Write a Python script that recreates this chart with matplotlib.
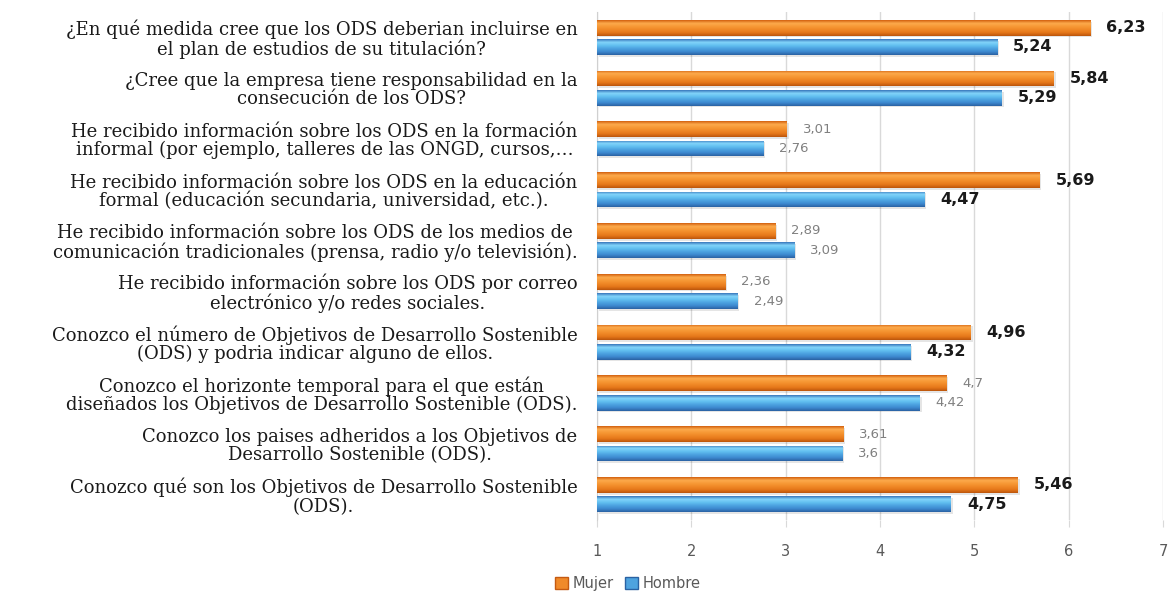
import numpy as np
import matplotlib
matplotlib.use('Agg')
import matplotlib.pyplot as plt
from matplotlib.colors import LinearSegmentedColormap
from matplotlib.patches import Patch

# datos
preguntas = [
    '¿En qué medida cree que los ODS deberian incluirse en\nel plan de estudios de su titulación?',
    '¿Cree que la empresa tiene responsabilidad en la\nconsecución de los ODS?',
    'He recibido información sobre los ODS en la formación\ninformal (por ejemplo, talleres de las ONGD, cursos,…',
    'He recibido información sobre los ODS en la educación\nformal (educación secundaria, universidad, etc.).',
    'He recibido información sobre los ODS de los medios de\ncomunicación tradicionales (prensa, radio y/o televisión).',
    'He recibido información sobre los ODS por correo\nelectrónico y/o redes sociales.',
    'Conozco el número de Objetivos de Desarrollo Sostenible\n(ODS) y podria indicar alguno de ellos.',
    'Conozco el horizonte temporal para el que están\ndiseñados los Objetivos de Desarrollo Sostenible (ODS).',
    'Conozco los paises adheridos a los Objetivos de\nDesarrollo Sostenible (ODS).',
    'Conozco qué son los Objetivos de Desarrollo Sostenible\n(ODS).',
]
mujer = [6.23, 5.84, 3.01, 5.69, 2.89, 2.36, 4.96, 4.70, 3.61, 5.46]
hombre = [5.24, 5.29, 2.76, 4.47, 3.09, 2.49, 4.32, 4.42, 3.60, 4.75]
etq_mujer = ['6,23', '5,84', '3,01', '5,69', '2,89', '2,36', '4,96', '4,7', '3,61', '5,46']
etq_hombre = ['5,24', '5,29', '2,76', '4,47', '3,09', '2,49', '4,32', '4,42', '3,6', '4,75']
# etiquetas en negrita (las grandes del original)
negrita_mujer = [True, True, False, True, False, False, True, False, False, True]
negrita_hombre = [True, True, False, True, False, False, True, False, False, True]

base = 1  # el eje empieza en 1

# degradados de las barras
grad_naranja = LinearSegmentedColormap.from_list('nar', ['#D2600F', '#FCAA4C', '#F79936', '#F08826', '#E47619', '#BC560C'])
grad_azul = LinearSegmentedColormap.from_list('azu', ['#3877BC', '#82D4FA', '#62BFF0', '#4CA2E0', '#3D88CF', '#2A62A3'])

fig = plt.figure(figsize=(11.69, 5.95), dpi=100)
ax = fig.add_axes([0.5107, 0.126, 0.4843, 0.854])

y = np.arange(len(preguntas))
h = 0.31
d = 0.19
b1 = ax.barh(y - d, np.array(mujer) - base, left=base, height=h, color='#F08A2A', zorder=2)
b2 = ax.barh(y + d, np.array(hombre) - base, left=base, height=h, color='#4EA3DF', zorder=2)

g = np.linspace(0, 1, 64).reshape(-1, 1)
for bars, cm in ((b1, grad_naranja), (b2, grad_azul)):
    for bar in bars:
        x0, y0 = bar.get_xy()
        w, hh = bar.get_width(), bar.get_height()
        # sombra ligera
        ax.barh(y0 + hh / 2 + 0.035, w, left=x0 + 0.02, height=hh, color='#000000', alpha=0.10, zorder=1)
        im = ax.imshow(g, cmap=cm, aspect='auto', origin='upper',
                       extent=[x0, x0 + w, y0 + hh, y0], zorder=3)
        im.set_clip_path(bar)

# etiquetas de valores
for bars, etq, neg in ((b1, etq_mujer, negrita_mujer), (b2, etq_hombre, negrita_hombre)):
    for bar, t, n in zip(bars, etq, neg):
        yc = bar.get_y() + bar.get_height() / 2
        xe = bar.get_x() + bar.get_width()
        if n:
            ax.annotate(t, (xe, yc), xytext=(11.5, 0), textcoords='offset points',
                        ha='left', va='center', fontsize=11.5, fontweight='bold', color='#1A1A1A')
        else:
            ax.annotate(t, (xe, yc), xytext=(11.5, 0), textcoords='offset points',
                        ha='left', va='center', fontsize=9.5, color='#808080')

ax.set_xlim(1, 7)
ax.set_ylim(len(preguntas) - 0.5, -0.5)
ax.set_xticks(range(1, 8))
ax.set_yticks(y)
ax.set_yticklabels(preguntas, fontfamily='DejaVu Serif', fontsize=13, color='#1A1A1A', linespacing=1.02)
for lbl in ax.get_yticklabels():
    lbl.set_multialignment('center')
ax.tick_params(axis='y', length=0, pad=14)
ax.tick_params(axis='x', length=5, color='#D9D9D9', labelcolor='#595959', labelsize=10.5, pad=12)

ax.grid(axis='x', color='#D9D9D9', lw=1)
ax.set_axisbelow(True)
for s in ('top', 'right', 'bottom'):
    ax.spines[s].set_visible(False)
ax.spines['left'].set_color('#D0D0D0')

fig.legend(handles=[Patch(facecolor='#F08A2A', edgecolor='#C55A11', label='Mujer'),
                    Patch(facecolor='#4EA3DF', edgecolor='#2A62A3', label='Hombre')],
           loc='center', bbox_to_anchor=(0.537, 0.02), ncol=2, frameon=False,
           fontsize=10.5, labelcolor='#595959', handlelength=0.9, handleheight=0.9,
           handletextpad=0.3, columnspacing=0.8)

fig.savefig('out.png', dpi=100)
